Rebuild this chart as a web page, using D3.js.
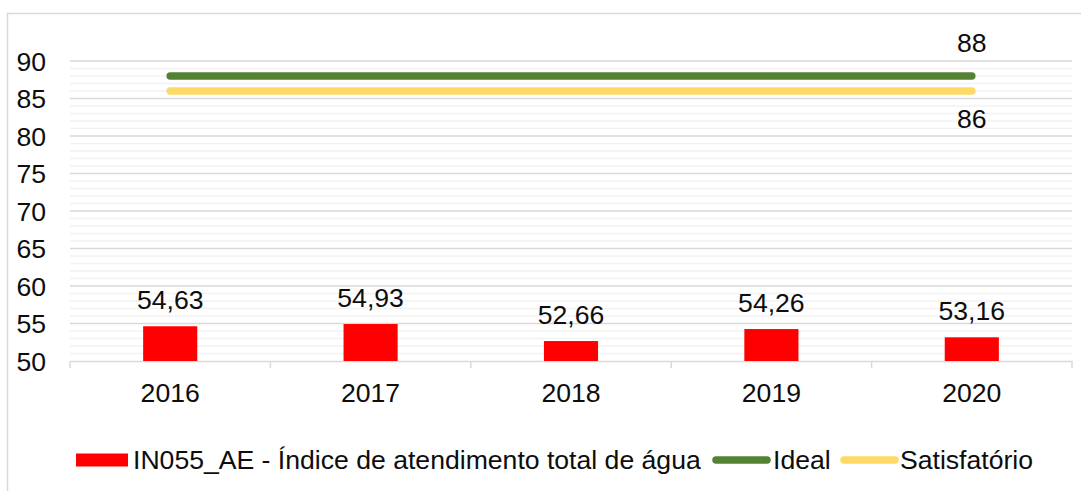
<!DOCTYPE html>
<html>
<head>
<meta charset="utf-8">
<script src="https://cdn.jsdelivr.net/npm/d3@7"></script>
<style>
  html, body { margin: 0; padding: 0; background: #fff; }
  svg text { font-family: "Liberation Sans", Arial, sans-serif; fill: #0d0d0d; }
</style>
</head>
<body>
<div id="chart"></div>
<script>
// data
var years = ['2016', '2017', '2018', '2019', '2020'];
var indice = [54.63, 54.93, 52.66, 54.26, 53.16];
var ideal = [88, 88, 88, 88, 88];
var satisfatorio = [86, 86, 86, 86, 86];
var yTicks = [50, 55, 60, 65, 70, 75, 80, 85, 90];
var seriesNames = ['IN055_AE - Índice de atendimento total de água', 'Ideal', 'Satisfatório'];

var width = 1081, height = 491;
var margin = { left: 70, right: 1072, top: 61, bottom: 361 };
var fontSize = 26.6;
var colors = { bar: '#ff0000', ideal: '#548235', satisf: '#ffd966', grid: '#d9d9d9', minor: '#f2f2f2' };

var svg = d3.select('#chart')
  .append('svg')
  .attr('width', width)
  .attr('height', height);

// outer frame (only left and top edges are visible in the picture)
svg.append('rect')
  .attr('x', 7.5).attr('y', 13.5)
  .attr('width', 1200).attr('height', 600)
  .attr('fill', 'none')
  .attr('stroke', colors.grid)
  .attr('stroke-width', 1.5);

var x = d3.scaleBand()
  .domain(years)
  .range([margin.left, margin.right]);

var y = d3.scaleLinear()
  .domain([50, 90])
  .range([margin.bottom, margin.top]);

// minor gridlines every 1
var minor = d3.range(51, 90).filter(function (v) { return v % 5 !== 0; });
svg.append('g').selectAll('line')
  .data(minor)
  .enter().append('line')
  .attr('x1', margin.left).attr('x2', margin.right)
  .attr('y1', function (d) { return y(d); })
  .attr('y2', function (d) { return y(d); })
  .attr('stroke', colors.minor)
  .attr('stroke-width', 1.3);

// major gridlines
svg.append('g').selectAll('line')
  .data(yTicks.slice(1))
  .enter().append('line')
  .attr('x1', margin.left).attr('x2', margin.right)
  .attr('y1', function (d) { return y(d); })
  .attr('y2', function (d) { return y(d); })
  .attr('stroke', colors.grid)
  .attr('stroke-width', 1.5);

// y labels
svg.append('g').selectAll('text')
  .data(yTicks)
  .enter().append('text')
  .attr('x', 46)
  .attr('y', function (d) { return y(d) + 9.5; })
  .attr('text-anchor', 'end')
  .style('font-size', fontSize + 'px')
  .text(function (d) { return d; });

// x axis line with category ticks
var xAxis = d3.axisBottom(x).tickSize(0).tickFormat('');
var gx = svg.append('g')
  .attr('transform', 'translate(0,' + margin.bottom + ')')
  .call(xAxis);
gx.select('.domain').attr('stroke', colors.grid).attr('stroke-width', 1.5);
var bounds = years.map(function (d) { return x(d); }).concat([margin.right]);
svg.append('g').selectAll('line')
  .data(bounds)
  .enter().append('line')
  .attr('x1', function (d) { return d; }).attr('x2', function (d) { return d; })
  .attr('y1', margin.bottom).attr('y2', margin.bottom + 7)
  .attr('stroke', colors.grid)
  .attr('stroke-width', 1.5);

svg.append('g').selectAll('text')
  .data(years)
  .enter().append('text')
  .attr('x', function (d) { return x(d) + x.bandwidth() / 2; })
  .attr('y', 401.5)
  .attr('text-anchor', 'middle')
  .style('font-size', fontSize + 'px')
  .text(function (d) { return d; });

// bars
var barW = x.bandwidth() * 0.27;
svg.append('g').selectAll('rect')
  .data(indice)
  .enter().append('rect')
  .attr('x', function (d, i) { return x(years[i]) + x.bandwidth() / 2 - barW / 2; })
  .attr('y', function (d) { return y(d); })
  .attr('width', barW)
  .attr('height', function (d) { return y(50) - y(d); })
  .attr('fill', colors.bar);

svg.append('g').selectAll('text')
  .data(indice)
  .enter().append('text')
  .attr('x', function (d, i) { return x(years[i]) + x.bandwidth() / 2; })
  .attr('y', function (d) { return y(d) - 17; })
  .attr('text-anchor', 'middle')
  .style('font-size', fontSize + 'px')
  .text(function (d) { return d.toFixed(2).replace('.', ','); });

// reference lines
var line = d3.line()
  .x(function (d, i) { return x(years[i]) + x.bandwidth() / 2; })
  .y(function (d) { return y(d); });

svg.append('path')
  .datum(satisfatorio)
  .attr('d', line)
  .attr('fill', 'none')
  .attr('stroke', colors.satisf)
  .attr('stroke-width', 7.5)
  .attr('stroke-linecap', 'round');

svg.append('path')
  .datum(ideal)
  .attr('d', line)
  .attr('fill', 'none')
  .attr('stroke', colors.ideal)
  .attr('stroke-width', 7.5)
  .attr('stroke-linecap', 'round');

var lastX = x(years[4]) + x.bandwidth() / 2;
svg.append('text')
  .attr('x', lastX).attr('y', y(ideal[4]) - 24)
  .attr('text-anchor', 'middle')
  .style('font-size', fontSize + 'px')
  .text(ideal[4]);
svg.append('text')
  .attr('x', lastX).attr('y', y(satisfatorio[4]) + 37)
  .attr('text-anchor', 'middle')
  .style('font-size', fontSize + 'px')
  .text(satisfatorio[4]);

// legend
var legY = 460;
var leg = svg.append('g');
leg.append('rect')
  .attr('x', 76).attr('y', legY - 6.5)
  .attr('width', 52).attr('height', 13)
  .attr('fill', colors.bar);
leg.append('text')
  .attr('x', 133).attr('y', 469)
  .style('font-size', fontSize + 'px')
  .text(seriesNames[0]);

leg.append('line')
  .attr('x1', 716).attr('x2', 767)
  .attr('y1', legY).attr('y2', legY)
  .attr('stroke', colors.ideal).attr('stroke-width', 7.5)
  .attr('stroke-linecap', 'round');
leg.append('text')
  .attr('x', 773).attr('y', 469)
  .style('font-size', fontSize + 'px')
  .text(seriesNames[1]);

leg.append('line')
  .attr('x1', 844).attr('x2', 895)
  .attr('y1', legY).attr('y2', legY)
  .attr('stroke', colors.satisf).attr('stroke-width', 7.5)
  .attr('stroke-linecap', 'round');
leg.append('text')
  .attr('x', 900).attr('y', 469)
  .style('font-size', fontSize + 'px')
  .text(seriesNames[2]);
</script>
</body>
</html>
